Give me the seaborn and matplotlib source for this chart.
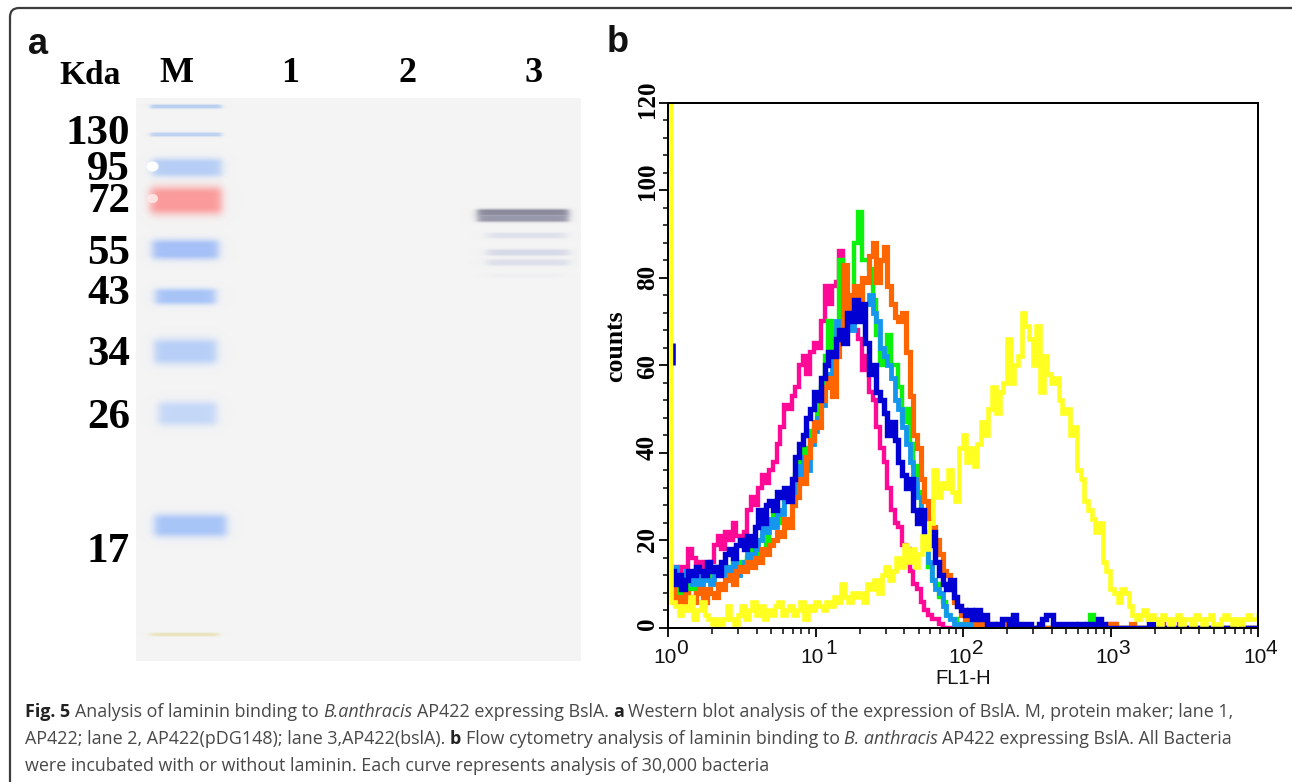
import numpy as np
import pandas as pd
import matplotlib
matplotlib.use("Agg")
import matplotlib.pyplot as plt
from matplotlib.patches import FancyBboxPatch
from matplotlib.transforms import ScaledTranslation
from matplotlib.ticker import LogLocator, MultipleLocator, NullFormatter, FixedLocator, FixedFormatter
import seaborn as sns

# ---------- panel b: histogram counts per channel (40 channels per decade) ----------
pink = [13,14,13,14,14,18,16,14,15,14, 14,15,19,21,18,22,20,24,21,20, 22,27,30,28,32,35,33,36,38,42,
        46,51,50,53,55,60,62,58,63,65, 64,70,78,74,78,79,86,78,72,75, 68,66,59,62,54,52,46,41,38,32,
        27,24,23,19,18,13,10,9,6,4, 3,2,2,1,0,0,0,0,0,0, 0,0,0,0,0,0,0,0,0,0, 0,0,0,0,0,0,0,0,0,0,
        0,0,0,0,0,0,0,0,0,0, 0,0,0,0,0,0,0,0,0,0, 1,0,0,0,0,0,0,0,0,0, 0,0,0,1,0,0,0,0,1,0]
green = [8,6,9,8,7,10,9,8,10,11, 12,11,13,14,12,14,13,15,14,15, 14,16,18,17,20,21,19,23,26,24,
         27,29,31,30,35,38,41,39,45,46, 52,55,62,70,64,68,84,76,72,74, 88,95,84,84,82,75,67,60,63,67,
         60,60,55,47,50,42,37,31,25,19, 14,11,10,7,6,3,2,2,1,1, 1,0,0,0,0,0,0,0,0,0, 0,0,0,0,0,0,0,0,0,0,
         0,0,0,0,0,0,0,0,0,0, 0,0,0,0,3,0,0,0,0,0]
lightblue = [12,14,11,10,13,12,10,14,9,11, 11,10,12,13,12,14,13,15,12,14, 15,17,16,18,20,24,22,25,23,27,
             26,29,32,30,37,33,39,36,42,45, 48,51,55,58,62,70,66,73,71,68, 72,76,70,74,76,72,70,64,62,60,
             57,52,50,46,42,38,34,30,24,20, 15,11,9,8,5,3,2,1,1,1, 1,1,0,0,1,1,0,0,0,0, 0,0,0,0,0,0,0,0,0,0,
             0,0,0,0,0,0,0,0,0,0, 0,0,1,1,0,0,0,0,0,0]
orange = [9,6,7,5,8,7,6,8,9,6, 9,8,7,10,9,11,12,10,13,14, 13,15,14,16,15,18,17,19,20,22,
          21,25,23,28,30,34,33,39,43,47, 46,52,55,57,53,62,68,83,72,76, 78,74,80,79,85,88,79,84,87,78,
          74,71,70,72,63,53,44,41,34,29, 25,23,20,17,13,12,9,6,5,3, 2,3,2,1,1,2,1,1,1,1, 1,1,1,1,1,0,0,0,0,0,
          0,0,0,0,0,0,0,0,0,0, 0,0,0,0,0,0,0,0,0,1, 1,0,0,0,0,1,0,0,0,0]
blue = [13,10,12,9,11,13,12,14,13,12, 15,13,14,12,15,17,18,16,19,20, 18,21,19,23,27,24,28,29,27,31,
        30,32,29,34,39,42,44,48,50,54, 52,57,60,63,62,66,68,65,72,70, 75,70,74,65,58,60,54,52,49,44,
        47,43,38,35,32,34,27,24,27,22, 19,22,15,12,10,9,11,7,5,4, 3,4,2,4,2,3,1,1,0,1, 2,2,1,3,1,1,1,1,0,0,
        1,2,3,3,1,1,1,1,1,1, 0,1,0,1,1,1,2,1,0,0, 0,0,0,0,0,0,0,0,0,0, 1,0,0,0,0,0,0,0,0,0]
yellow = [120, 6,5,3,5,4,7,2,4,6,3, 2,1,2,1,2,5,2,1,3,5, 2,4,6,3,5,2,4,3,5,6, 3,4,5,3,4,6,2,5,4,6,
          5,4,6,5,7,6,10,7,6,8, 7,8,6,10,9,11,8,12,14,11, 13,16,14,19,15,18,14,17,21,18,
          24,36,30,33,32,36,31,29,41,44, 38,41,37,42,47,44,50,55,49,54, 56,66,56,60,62,72,69,66,60,69,
          54,62,58,56,57,52,49,50,44,46, 36,34,29,27,25,22,24,15,13,9, 8,6,9,8,5,3,2,3,4,2,
          3,2,1,3,2,1,2,3,1,2, 2,1,3,2,1,2,3,1,1,2, 3,2,1,2,1,2,3,2,2,3]
blue_first_channel_counts = [60, 65]

# ---------- panel a: marker lanes ----------
kda_labels = ["130", "95", "72", "55", "43", "34", "26", "17"]
lane_labels = ["M", "1", "2", "3"]

CHANNELS_PER_DECADE = 40
W, H = 1292, 782
PAL = {"pink": "#ff0a96", "green": "#0cf20c", "lightblue": "#1496ee",
       "orange": "#ff6600", "blue": "#0000d2", "yellow": "#ffff22"}
WIDTHS = {"pink": 4.4, "green": 4.4, "lightblue": 4.8, "orange": 5.2, "blue": 5.4, "yellow": 4.6}

sns.set_theme(style="white")
plt.rcParams["font.family"] = ["Liberation Sans", "DejaVu Sans"]

fig = plt.figure(figsize=(W / 100, H / 100), dpi=100, facecolor="white")
px = 72 / 100


def pad(vals, n=160):
    return list(vals) + [0] * (n - len(vals))


# ---------- overlay in pixel coordinates ----------
ov = fig.add_axes([0, 0, 1, 1])
ov.set_xlim(0, W)
ov.set_ylim(H, 0)
ov.axis("off")

ov.add_patch(FancyBboxPatch((20, 18), W + 20, H + 20,
                            boxstyle="round,pad=10,rounding_size=9",
                            fc="none", ec="#3c3c3c", lw=1.6))

# blot image
bx0, bx1, by0, by1 = 136, 581, 98, 661
yy, xx = np.mgrid[by0:by1, bx0:bx1].astype(float)
img = np.full(yy.shape + (3,), 0.957)
bands = [  # y, x0, x1, half-height, colour, strength, edge softness
    (106, 150, 221, 1.6, "#a8c4f0", .75, 3),
    (134, 150, 221, 1.6, "#a8c4f0", .70, 3),
    (167, 152, 221, 7.0, "#b0caf6", .90, 5),
    (200, 150, 221, 10.5, "#fb9a9a", 1.0, 5),
    (249, 152, 218, 7.5, "#a4c0f7", 1.0, 5),
    (296, 155, 215, 6, "#a4c2f8", .95, 5),
    (351, 154, 216, 9.5, "#b4cdf8", .95, 5),
    (413, 158, 216, 9, "#c2d6f8", .95, 5),
    (525, 154, 226, 8.5, "#a8c5f8", 1.0, 5),
    (634, 150, 218, 1, "#e8dfb0", .8, 4),
    (212, 477, 568, 2.6, "#8a8a9c", 1.0, 4),
    (218, 477, 568, 2.6, "#9494a8", .95, 4),
    (235, 487, 565, 2.2, "#d0d5e6", .6, 6),
    (252, 487, 568, 2.4, "#c6cbe0", .65, 6),
    (262, 487, 568, 2.4, "#ced2e4", .6, 6),
    (275, 490, 560, 1.6, "#e0e2ec", .3, 6),
]
for yc, x0, x1, hh, col, s, soft in bands:
    xp = 0.5 * (np.tanh((xx - x0) / soft) - np.tanh((xx - x1) / soft))
    yp = np.exp(-np.maximum(np.abs(yy - yc) - hh * 0.6, 0) ** 2 / (2 * (max(hh, 1.6) * .55) ** 2))
    a = (s * xp * yp)[..., None]
    img = img * (1 - a) + np.array(matplotlib.colors.to_rgb(col)) * a
for cx, cy, r, col, s in [(152, 166, 5.5, "#ffffff", 1.0), (152, 198, 5, "#ffe8e8", .9)]:
    d = np.hypot((xx - cx), (yy - cy) * 1.2)
    a = (s * np.clip(r + 1 - d, 0, 1))[..., None]
    img = img * (1 - a) + np.array(matplotlib.colors.to_rgb(col)) * a
ov.imshow(img, extent=(bx0, bx1, by1, by0), aspect="auto", interpolation="bilinear", zorder=1)
ov.set_xlim(0, W)
ov.set_ylim(H, 0)

serif = ["Liberation Serif", "DejaVu Serif"]
ov.text(28, 44, "a", fontsize=26, fontweight="bold", ha="left", va="center", color="#111")
ov.text(607, 42, "b", fontsize=26, fontweight="bold", ha="left", va="center", color="#111")
ov.text(90, 75, "Kda", family=serif, fontsize=24, fontweight="bold", ha="center", va="center", color="black")
lane_x = [176, 290, 407, 534]
for lab, x in zip(lane_labels, lane_x):
    ov.text(x, 74, lab, family=serif, fontsize=26, fontweight="bold", ha="center", va="center", color="black")
kda_y = [134, 170, 202, 254, 294, 355, 418, 552]
for lab, y in zip(kda_labels, kda_y):
    ov.text(130, y, lab, family=serif, fontsize=31, fontweight="bold", ha="right", va="center", color="black", zorder=3)

# ---------- caption ----------
cap_lines = [
    (717, [("Fig. 5", "bold", "normal"), (" Analysis of laminin binding to ", "normal", "normal"),
           ("B.anthracis", "normal", "italic"), (" AP422 expressing BslA. ", "normal", "normal"),
           ("a", "bold", "normal"),
           (" Western blot analysis of the expression of BslA. M, protein maker; lane 1,", "normal", "normal")]),
    (744, [("AP422; lane 2, AP422(pDG148); lane 3,AP422(bslA). ", "normal", "normal"), ("b", "bold", "normal"),
           (" Flow cytometry analysis of laminin binding to ", "normal", "normal"),
           ("B. anthracis", "normal", "italic"), (" AP422 expressing BslA. All Bacteria", "normal", "normal")]),
    (771, [("were incubated with or without laminin. Each curve represents analysis of 30,000 bacteria", "normal", "normal")]),
]
r = fig.canvas.get_renderer()
sp = 4.5
for y, runs in cap_lines:
    x = 25.0
    for txt, w, st in runs:
        lead = len(txt) - len(txt.lstrip(" "))
        trail = len(txt) - len(txt.rstrip(" "))
        t = ov.text(x + lead * sp, y, txt.strip(" "), family="Open Sans", fontsize=12.9, fontweight=w, fontstyle=st,
                    color="#484848" if w == "normal" else "#222222", ha="left", va="baseline")
        ext = t.get_window_extent(r)
        x = x + lead * sp + ext.width + trail * sp

# ---------- panel b axes ----------
L, R, T, B = 668, 1258, 102.5, 628
ax = fig.add_axes([L / W, 1 - B / H, (R - L) / W, (B - T) / H], facecolor="white")

rows = []
for name, vals in [("pink", pink), ("green", green), ("lightblue", lightblue),
                   ("orange", orange), ("blue", blue)]:
    for ch, v in enumerate(pad(vals), start=1):
        rows.append((name, 10 ** (ch / CHANNELS_PER_DECADE), v))
for ch, v in enumerate(yellow):
    rows.append(("yellow", 10 ** ((ch + 0.4) / CHANNELS_PER_DECADE), v))
df = pd.DataFrame(rows, columns=["series", "FL1-H", "counts"])

for name in ["pink", "green", "lightblue", "orange", "blue", "yellow"]:
    sns.lineplot(data=df[df["series"] == name], x="FL1-H", y="counts", color=PAL[name],
                 estimator=None, sort=False, drawstyle="steps-mid",
                 lw=WIDTHS[name] * px, legend=False, ax=ax, solid_joinstyle="miter")
ax.plot([1.09, 1.09], blue_first_channel_counts, color=PAL["blue"], lw=2.6 * px, zorder=3,
        solid_capstyle="butt")

ax.set_xscale("log")
ax.set_xlim(1, 1e4)
ax.set_ylim(0, 120)

for s in ax.spines.values():
    s.set_visible(True)
    s.set_color("black")
    s.set_linewidth(2.0 * px)

ax.yaxis.set_major_locator(MultipleLocator(20))
ax.yaxis.set_minor_locator(MultipleLocator(4))
ax.xaxis.set_major_locator(FixedLocator([1, 10, 100, 1000, 10000]))
ax.xaxis.set_major_formatter(FixedFormatter(["10"] * 5))
ax.xaxis.set_minor_locator(LogLocator(base=10, subs=range(2, 10), numticks=12))
ax.xaxis.set_minor_formatter(NullFormatter())
ax.tick_params(axis="both", which="major", direction="out", length=9 * px, width=1.8 * px,
               color="black", bottom=True, left=True, top=False, right=False)
ax.tick_params(axis="both", which="minor", direction="out", length=5.5 * px, width=1.5 * px,
               color="black", bottom=True, left=True, top=False, right=False)
ax.tick_params(axis="x", which="major", labelsize=15, pad=8, labelcolor="black")
ax.tick_params(axis="y", which="major", labelsize=18, pad=0, labelcolor="black")
ax.set_xlabel("")
ax.set_ylabel("counts", family=serif, fontweight="bold", fontsize=18.5, color="black", labelpad=3)
ax.yaxis.set_label_coords((627 - L) / (R - L), (B - 346) / (B - T))
fig.canvas.draw()

y_nudge = {0: 4, 20: 1, 40: 5, 60: -1, 80: 0, 100: 9, 120: 3}  # px, as the labels sit in the figure
for tick in ax.yaxis.get_major_ticks():
    t = tick.label1
    t.set_family(serif)
    t.set_fontweight("bold")
    t.set_rotation(90)
    t.set_va("center")
    dy = y_nudge.get(int(round(tick.get_loc())), 0)
    t.set_transform(t.get_transform() + ScaledTranslation(0, dy / 100, fig.dpi_scale_trans))
for tick in ax.xaxis.get_major_ticks():
    t = tick.label1
    t.set_family(["Liberation Sans"])
    t.set_color("#111111")
    t.set_transform(t.get_transform() + ScaledTranslation(-3 / 100, 0, fig.dpi_scale_trans))

ov.text(963, 678, "FL1-H", family="Liberation Sans", fontsize=14.5, ha="center", va="center", color="#111")
for x, e in zip([668, 817, 964, 1110, 1258], "01234"):
    ov.text(x + 8, 649, e, family="Liberation Sans", fontsize=15, ha="left", va="center", color="#111")

fig.savefig("out.png", dpi=100, facecolor="white")
